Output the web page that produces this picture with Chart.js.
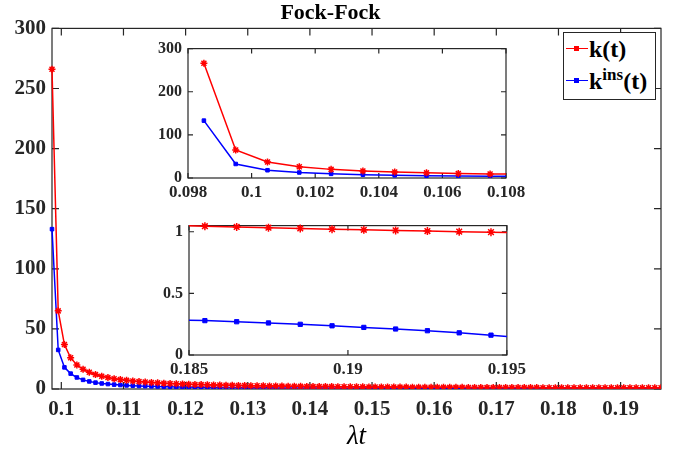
<!DOCTYPE html>
<html>
<head>
<meta charset="utf-8">
<script src="https://cdn.jsdelivr.net/npm/chart.js@4.4.0/dist/chart.umd.min.js"></script>
<style>
  body { margin: 0; background: #fff; }
  #wrap { position: relative; width: 677px; height: 455px; }
  #wrap canvas { position: absolute; }
  #main { left: 0; top: 0; }
  #ins1 { left: 140px; top: 33px; }
  #ins2 { left: 140px; top: 210px; }
  #legend {
    position: absolute; left: 563px; top: 32px; width: 91px; height: 66px;
    border: 1px solid #262626; background: #fff;
    font-family: "Liberation Serif", serif; font-weight: bold; font-size: 24px; color: #000;
  }
  #legend .row { position: absolute; left: 0; height: 30px; }
  #legend .ln { position: absolute; left: 2px; width: 22px; top: 14px; border-top: 1.5px solid; }
  #legend .mk { position: absolute; left: 8px; top: -3px; width: 5px; height: 5px; }
  #legend .txt { position: absolute; left: 25px; top: 0; white-space: nowrap; line-height: 30px; }
  #legend sup { font-size: 17px; vertical-align: 9px; line-height: 0; }
</style>
</head>
<body>
<div id="wrap">
  <canvas id="main" width="677" height="455"></canvas>
  <canvas id="ins1" width="390" height="175"></canvas>
  <canvas id="ins2" width="390" height="172"></canvas>
  <div id="legend">
    <div class="row" style="top:1px"><span class="ln" style="border-color:#ff0000"><span class="mk" style="background:#ff0000"></span></span><span class="txt">k(t)</span></div>
    <div class="row" style="top:33px"><span class="ln" style="border-color:#0000ff"><span class="mk" style="background:#0000ff"></span></span><span class="txt">k<sup>ins</sup>(t)</span></div>
  </div>
</div>
<script>
// datos
var tVals = [
  0.0985,0.0995,0.1005,0.1015,0.1025,0.1035,0.1045,0.1055,0.1065,0.1075,
  0.1085,0.1095,0.1105,0.1115,0.1125,0.1135,0.1145,0.1155,0.1165,0.1175,
  0.1185,0.1195,0.1205,0.1215,0.1225,0.1235,0.1245,0.1255,0.1265,0.1275,
  0.1285,0.1295,0.1305,0.1315,0.1325,0.1335,0.1345,0.1355,0.1365,0.1375,
  0.1385,0.1395,0.1405,0.1415,0.1425,0.1435,0.1445,0.1455,0.1465,0.1475,
  0.1485,0.1495,0.1505,0.1515,0.1525,0.1535,0.1545,0.1555,0.1565,0.1575,
  0.1585,0.1595,0.1605,0.1615,0.1625,0.1635,0.1645,0.1655,0.1665,0.1675,
  0.1685,0.1695,0.1705,0.1715,0.1725,0.1735,0.1745,0.1755,0.1765,0.1775,
  0.1785,0.1795,0.1805,0.1815,0.1825,0.1835,0.1845,0.1855,0.1865,0.1875,
  0.1885,0.1895,0.1905,0.1915,0.1925,0.1935,0.1945,0.1955,0.1965
];
var kVals = [
  266,65,37,26,20,16.4,13.9,12.0,10.6,9.5,
  8.6,7.8,7.2,6.7,6.2,5.8,5.45,5.14,4.86,4.62,
  4.39,4.19,4.0,3.83,3.67,3.53,3.40,3.27,3.16,3.05,
  2.95,2.86,2.77,2.69,2.61,2.54,2.47,2.40,2.34,2.28,
  2.22,2.17,2.12,2.07,2.02,1.98,1.94,1.90,1.86,1.82,
  1.78,1.75,1.72,1.69,1.66,1.63,1.60,1.57,1.55,1.52,
  1.488,1.463,1.44,1.417,1.395,1.374,1.353,1.333,1.314,1.295,
  1.277,1.259,1.241,1.224,1.208,1.192,1.176,1.161,1.146,1.132,
  1.118,1.104,1.091,1.078,1.068,1.06,1.052,1.045,1.039,1.033,
  1.027,1.021,1.016,1.011,1.006,1.001,0.997,0.993,0.989
];
var kInsVals = [
  133,32.5,18,12.8,9.6,7.6,6.3,5.3,4.6,4.1,
  3.65,3.3,3.0,2.75,2.55,2.37,2.21,2.08,1.96,1.85,
  1.75,1.66,1.58,1.51,1.44,1.38,1.32,1.27,1.22,1.17,
  1.13,1.09,1.05,1.02,0.99,0.96,0.93,0.90,0.87,0.85,
  0.82,0.80,0.78,0.76,0.74,0.72,0.70,0.685,0.67,0.655,
  0.64,0.625,0.61,0.597,0.585,0.573,0.561,0.55,0.539,0.528,
  0.517,0.506,0.495,0.484,0.473,0.462,0.451,0.44,0.43,0.42,
  0.41,0.40,0.39,0.381,0.372,0.363,0.354,0.346,0.338,0.33,
  0.323,0.316,0.309,0.303,0.297,0.291,0.286,0.279,0.270,0.260,
  0.249,0.237,0.224,0.211,0.197,0.180,0.161,0.14,0.117
];
var mainXTicks = [0.1,0.11,0.12,0.13,0.14,0.15,0.16,0.17,0.18,0.19];
var mainYTicks = [0,50,100,150,200,250,300];
var ins1XTicks = [0.098,0.1,0.102,0.104,0.106,0.108];
var ins1YTicks = [0,100,200,300];
var ins2XTicks = [0.185,0.19,0.195];
var ins2YTicks = [0,0.5,1];

var ejeColor = '#262626';
var fuente = '"Liberation Serif", "Times New Roman", serif';
Chart.defaults.font.family = fuente;
Chart.defaults.font.weight = 'bold';
Chart.defaults.color = ejeColor;

// caja y marcas hacia adentro (estilo matlab)
var cajaPlugin = {
  id: 'caja',
  beforeDatasetsDraw: function (chart, args, opts) {
    var ctx = chart.ctx, a = chart.chartArea;
    var x = chart.scales.x, y = chart.scales.y;
    var len = opts.len || 6;
    ctx.save();
    ctx.strokeStyle = ejeColor;
    ctx.lineWidth = 1.2;
    ctx.beginPath();
    x.ticks.forEach(function (t) {
      var px = x.getPixelForValue(t.value);
      ctx.moveTo(px, a.bottom); ctx.lineTo(px, a.bottom - len);
      ctx.moveTo(px, a.top); ctx.lineTo(px, a.top + len);
    });
    y.ticks.forEach(function (t) {
      var py = y.getPixelForValue(t.value);
      ctx.moveTo(a.left, py); ctx.lineTo(a.left + len, py);
      ctx.moveTo(a.right, py); ctx.lineTo(a.right - len, py);
    });
    ctx.stroke();
    ctx.strokeRect(a.left, a.top, a.right - a.left, a.bottom - a.top);
    ctx.restore();
  }
};

function puntos(vals) {
  return tVals.map(function (t, i) { return { x: t, y: vals[i] }; });
}

function armarGrafico(id, cfg) {
  return new Chart(document.getElementById(id), {
    type: 'line',
    data: {
      datasets: [{
        label: 'k(t)',
        data: puntos(kVals),
        borderColor: '#ff0000',
        backgroundColor: '#ff0000',
        borderWidth: 1.5,
        pointStyle: 'star',
        pointRadius: cfg.rStar,
        pointBorderWidth: 1.5,
        clip: cfg.clip
      }, {
        label: 'kins(t)',
        data: puntos(kInsVals),
        borderColor: '#0000ff',
        backgroundColor: '#0000ff',
        borderWidth: 1.5,
        pointStyle: 'rect',
        pointRadius: cfg.rRect,
        pointBorderWidth: 1,
        clip: cfg.clip
      }]
    },
    options: {
      responsive: false,
      animation: false,
      devicePixelRatio: 1,
      layout: { padding: cfg.padding },
      plugins: {
        legend: { display: false },
        tooltip: { enabled: false },
        title: cfg.title || { display: false },
        caja: { len: cfg.tickLen }
      },
      scales: {
        x: {
          type: 'linear',
          min: cfg.xMin, max: cfg.xMax,
          afterBuildTicks: function (s) { s.ticks = cfg.xTicks.map(function (v) { return { value: v }; }); },
          afterFit: function (s) { s.height = cfg.xHeight; },
          ticks: { font: { family: fuente, size: cfg.xFont, weight: 'bold' }, color: ejeColor, padding: cfg.xPad, maxRotation: 0, autoSkip: false,
                   callback: function (v) { return String(v); } },
          grid: { display: false, drawTicks: false },
          border: { display: false },
          title: cfg.xTitle || { display: false }
        },
        y: {
          type: 'linear',
          min: cfg.yMin, max: cfg.yMax,
          afterBuildTicks: function (s) { s.ticks = cfg.yTicks.map(function (v) { return { value: v }; }); },
          afterFit: function (s) { s.width = cfg.yWidth; },
          ticks: { font: { family: fuente, size: cfg.yFont, weight: 'bold' }, color: ejeColor, padding: cfg.yPad, autoSkip: false,
                   callback: function (v) { return String(v); } },
          grid: { display: false, drawTicks: false },
          border: { display: false }
        }
      }
    },
    plugins: [cajaPlugin]
  });
}

// grafico principal
armarGrafico('main', {
  xMin: 0.0985, xMax: 0.1965, yMin: 0, yMax: 300,
  xTicks: mainXTicks, yTicks: mainYTicks,
  padding: { top: 0, right: 16, bottom: 0, left: 0 },
  xHeight: 66, yWidth: 52, xFont: 21, yFont: 21, xPad: 8, yPad: 6,
  rStar: 3.5, rRect: 2.5, tickLen: 7,
  clip: { left: 5, top: 5, right: 0, bottom: 0 },
  title: { display: true, text: 'Fock-Fock', color: '#000', font: { family: fuente, size: 22, weight: 'bold' }, padding: { top: 0, bottom: 2 } },
  xTitle: { display: true, text: 'λt', color: '#000', font: { family: fuente, size: 27, style: 'italic', weight: 'normal' }, padding: { top: 0, bottom: 2 } }
});

// recuadro superior
armarGrafico('ins1', {
  xMin: 0.098, xMax: 0.108, yMin: 0, yMax: 300,
  xTicks: ins1XTicks, yTicks: ins1YTicks,
  padding: { top: 10, right: 24, bottom: 0, left: 0 },
  xHeight: 30, yWidth: 48, xFont: 17, yFont: 16, xPad: 4, yPad: 6,
  rStar: 3.5, rRect: 2.5, tickLen: 5,
  clip: 0
});

// recuadro inferior
armarGrafico('ins2', {
  xMin: 0.185, xMax: 0.195, yMin: 0, yMax: 1.05,
  xTicks: ins2XTicks, yTicks: ins2YTicks,
  padding: { top: 9, right: 21, bottom: 0, left: 0 },
  xHeight: 27, yWidth: 49, xFont: 17, yFont: 16, xPad: 4, yPad: 6,
  rStar: 4, rRect: 3, tickLen: 5,
  clip: { left: 0, top: 6, right: 0, bottom: 0 }
});
</script>
</body>
</html>
